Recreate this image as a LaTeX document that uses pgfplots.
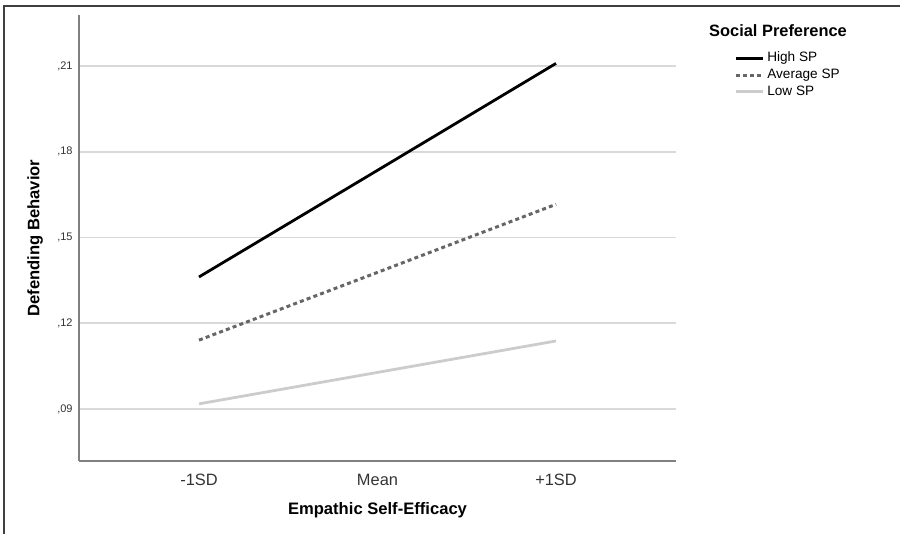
\documentclass[border=0pt]{standalone}
\usepackage{pgfplots}
\pgfplotsset{compat=1.18}
\usepackage{fontspec}
\setmainfont{Liberation Sans}
\begin{document}
\begin{tikzpicture}[x=1pt,y=1pt]
\path[use as bounding box] (0,0) rectangle (450,267);
\draw[line width=1pt,color=black!75] (2,0) -- (2,264) -- (450,264);
\begin{axis}[
  at={(39.5pt,36.5pt)}, anchor=south west,
  scale only axis, width=298.5pt, height=223pt,
  xmin=-0.6723, xmax=2.6723,
  ymin=0.07181, ymax=0.22784,
  axis x line*=bottom, axis y line*=left,
  axis line style={draw=black!50, line width=0.8pt, -},
  xtick={0,1,2}, xticklabels={-1SD,Mean,+1SD},
  ytick={0.09,0.12,0.15,0.18,0.21},
  yticklabels={{,09},{,12},{,15},{,18},{,21}},
  major tick length=0pt,
  ymajorgrids, grid style={draw=black!15, line width=0.8pt},
  xticklabel style={font=\fontsize{8.2}{9}\selectfont, color=black!80, yshift=-3pt},
  yticklabel style={font=\fontsize{5.5}{6}\selectfont, color=black!80, inner sep=0pt, xshift=-3pt},
  xlabel={\textbf{Empathic Self-Efficacy}},
  ylabel={\textbf{Defending Behavior}},
  label style={font=\fontsize{8.3}{9}\selectfont},
  xlabel style={at={(rel axis cs:0.5,0)}, anchor=center, yshift=-24.5pt},
  ylabel style={at={(rel axis cs:0,0.5)}, anchor=center, yshift=22pt},
  clip=false,
  legend cell align=left,
  legend image code/.code={\draw[#1] (0pt,0pt) -- (13.5pt,0pt);},
  legend style={at={(1.087,0.927)}, anchor=north west, draw=none, fill=none,
    font=\fontsize{6.8}{7}\selectfont, row sep=1.8pt, column sep=1.5pt,
    nodes={inner sep=0pt, text height=5pt, text depth=1.5pt}},
]
\addplot[black, line width=1.4pt] coordinates {(0,0.1362) (1,0.1735) (2,0.2109)};
\addlegendentry{High SP}
\addplot[black!60, line width=1.5pt, dash pattern=on 2pt off 1.6pt] coordinates {(0,0.1141) (1,0.1378) (2,0.1616)};
\addlegendentry{Average SP}
\addplot[black!20, line width=1.4pt] coordinates {(0,0.0918) (1,0.1028) (2,0.1138)};
\addlegendentry{Low SP}
\node[anchor=west, inner sep=0pt, font=\fontsize{8.2}{9}\selectfont\bfseries] at (rel axis cs:1.055,0.964) {Social Preference};
\end{axis}
\end{tikzpicture}
\end{document}
